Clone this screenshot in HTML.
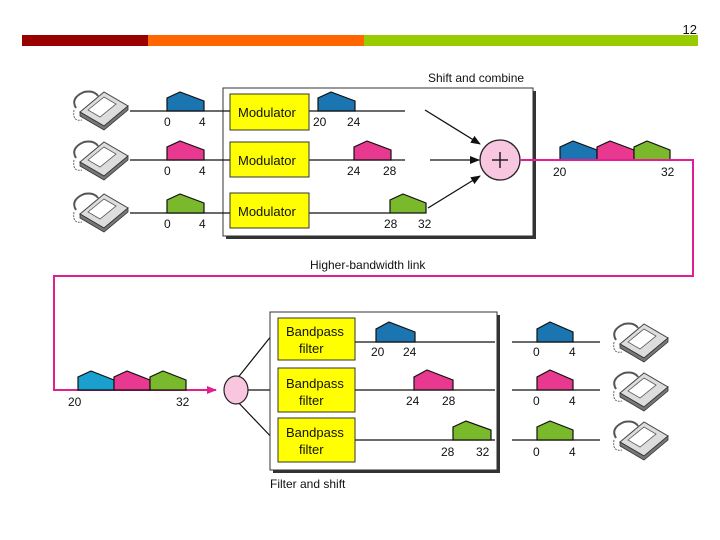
<!DOCTYPE html>
<html><head><style>body{margin:0;background:#fff}svg{display:block}text{font-family:"Liberation Sans",sans-serif;font-size:12px;fill:#111}</style></head><body>
<svg width="720" height="540" viewBox="0 0 720 540">
<defs>
<marker id="a" markerWidth="10" markerHeight="8" refX="9" refY="4" orient="auto" markerUnits="userSpaceOnUse"><path d="M0,0 L10,4 L0,8 Z" fill="#111"/></marker>
<marker id="m" markerWidth="10" markerHeight="8" refX="9" refY="4" orient="auto" markerUnits="userSpaceOnUse"><path d="M0,0 L10,4 L0,8 Z" fill="#e0208f"/></marker>
<g id="ph">
<path d="M-22,2 L2,-18 L26,-4 L2,16 Z" fill="#ddd" stroke="#444" stroke-width="1"/>
<path d="M-22,2 L-22,6 L2,20 L26,0 L26,-4 L2,16 Z" fill="#777" stroke="#333" stroke-width="0.8"/>
<path d="M-14,0 L2,-13 L14,-6 L-2,7 Z" fill="#fff" stroke="#555" stroke-width="0.8"/>
<path d="M-26,-2 Q-32,-12 -18,-18 Q-8,-20 -4,-14" fill="none" stroke="#555" stroke-width="2"/>
<path d="M-28,0 Q-30,12 -20,10" fill="none" stroke="#666" stroke-width="1" stroke-dasharray="2,1"/>
</g>
</defs>
<text x="697" y="34" text-anchor="end" style="font-size:13px">12</text>
<rect x="22" y="35" width="126" height="11" fill="#990000"/>
<rect x="148" y="35" width="216" height="11" fill="#ff6600"/>
<rect x="364" y="35" width="334" height="11" fill="#99cc00"/>

<!-- top box -->
<rect x="226" y="91" width="310" height="148" fill="#333"/>
<rect x="223" y="88" width="310" height="148" fill="#fff" stroke="#333"/>
<text x="428" y="82">Shift and combine</text>
<text x="310" y="269">Higher-bandwidth link</text>
<g stroke="#111" stroke-width="1.3">
<line x1="130" y1="111" x2="230" y2="111"/><line x1="130" y1="160" x2="230" y2="160"/><line x1="130" y1="213" x2="230" y2="213"/>
<line x1="309" y1="111" x2="405" y2="111"/><line x1="309" y1="160" x2="405" y2="160"/><line x1="309" y1="213" x2="390" y2="213"/>
</g>
<g fill="#ffff00" stroke="#333"><rect x="230" y="94" width="79" height="36"/><rect x="230" y="142" width="79" height="35"/><rect x="230" y="193" width="79" height="35"/></g>
<text x="238" y="117" style="font-size:13px">Modulator</text><text x="238" y="165" style="font-size:13px">Modulator</text><text x="238" y="216" style="font-size:13px">Modulator</text>
<g stroke="#111" stroke-width="1.2">
<path d="M167,111 V98 L180,92 L204,101 V111 Z" fill="#1a75b0"/>
<path d="M167,160 V147 L180,141 L204,150 V160 Z" fill="#e8388f"/>
<path d="M167,213 V200 L180,194 L204,203 V213 Z" fill="#7ab82c"/>
<path d="M318,111 V98 L331,92 L355,101 V111 Z" fill="#1a75b0"/>
<path d="M354,160 V147 L367,141 L391,150 V160 Z" fill="#e8388f"/>
<path d="M390,213 V200 L403,194 L426,203 V213 Z" fill="#7ab82c"/>
</g>
<text x="164" y="126">0</text><text x="199" y="126">4</text>
<text x="164" y="175">0</text><text x="199" y="175">4</text>
<text x="164" y="228">0</text><text x="199" y="228">4</text>
<text x="313" y="126">20</text><text x="347" y="126">24</text>
<text x="347" y="175">24</text><text x="383" y="175">28</text>
<text x="384" y="228">28</text><text x="418" y="228">32</text>
<g stroke="#111" stroke-width="1.3">
<line x1="425" y1="110" x2="480" y2="144" marker-end="url(#a)"/>
<line x1="430" y1="160" x2="479" y2="160" marker-end="url(#a)"/>
<line x1="428" y1="208" x2="480" y2="176" marker-end="url(#a)"/>
</g>
<circle cx="500" cy="160" r="20" fill="#f9c6e0" stroke="#222" stroke-width="1.3"/>
<path d="M492,160 H508 M500,152 V168" stroke="#222" stroke-width="1.5"/>
<g stroke="#111" stroke-width="1.2">
<path d="M560,160 V147 L573,141 L597,150 V160 Z" fill="#1a75b0"/>
<path d="M597,160 V147 L610,141 L634,150 V160 Z" fill="#e8388f"/>
<path d="M634,160 V147 L647,141 L670,150 V160 Z" fill="#7ab82c"/>
</g>
<polyline points="520,160 693,160 693,276 54,276 54,390 216,390" fill="none" stroke="#e0208f" stroke-width="2" marker-end="url(#m)"/>
<text x="553" y="176">20</text><text x="661" y="176">32</text>
<use href="#ph" x="102" y="110"/><use href="#ph" x="102" y="160"/><use href="#ph" x="102" y="212"/>

<!-- bottom -->
<g stroke="#111" stroke-width="1.2">
<path d="M78,390 V377 L91,371 L114,380 V390 Z" fill="#1aa0cf"/>
<path d="M114,390 V377 L127,371 L150,380 V390 Z" fill="#e8388f"/>
<path d="M150,390 V377 L163,371 L186,380 V390 Z" fill="#7ab82c"/>
</g>
<text x="68" y="406">20</text><text x="176" y="406">32</text>
<g stroke="#111" stroke-width="1.2"><line x1="236" y1="380" x2="276" y2="330"/><line x1="248" y1="390" x2="276" y2="390"/><line x1="236" y1="400" x2="276" y2="442"/></g>
<ellipse cx="236" cy="390" rx="12" ry="14" fill="#f9c6e0" stroke="#222" stroke-width="1.2"/>
<rect x="273" y="315" width="227" height="158" fill="#333"/>
<rect x="270" y="312" width="227" height="158" fill="#fff" stroke="#333"/>
<text x="270" y="488">Filter and shift</text>
<g stroke="#111" stroke-width="1.3">
<line x1="355" y1="342" x2="495" y2="342"/><line x1="355" y1="390" x2="495" y2="390"/><line x1="355" y1="440" x2="495" y2="440"/>
<line x1="512" y1="342" x2="600" y2="342"/><line x1="512" y1="390" x2="600" y2="390"/><line x1="512" y1="440" x2="600" y2="440"/>
</g>
<g fill="#ffff00" stroke="#333"><rect x="278" y="318" width="77" height="42"/><rect x="278" y="368" width="77" height="44"/><rect x="278" y="418" width="77" height="44"/></g>
<g style="font-size:13px"><text x="286" y="336" style="font-size:13px">Bandpass</text><text x="299" y="353" style="font-size:13px">filter</text>
<text x="286" y="388" style="font-size:13px">Bandpass</text><text x="299" y="405" style="font-size:13px">filter</text>
<text x="286" y="437" style="font-size:13px">Bandpass</text><text x="299" y="454" style="font-size:13px">filter</text></g>
<g stroke="#111" stroke-width="1.2">
<path d="M376,342 V329 L389,322 L415,332 V342 Z" fill="#1a75b0"/>
<path d="M414,390 V377 L427,370 L453,380 V390 Z" fill="#e8388f"/>
<path d="M453,440 V427 L466,421 L491,430 V440 Z" fill="#7ab82c"/>
<path d="M537,342 V329 L550,322 L573,332 V342 Z" fill="#1a75b0"/>
<path d="M537,390 V377 L550,370 L573,380 V390 Z" fill="#e8388f"/>
<path d="M537,440 V427 L550,421 L573,430 V440 Z" fill="#7ab82c"/>
</g>
<text x="371" y="356">20</text><text x="403" y="356">24</text>
<text x="406" y="405">24</text><text x="442" y="405">28</text>
<text x="441" y="456">28</text><text x="476" y="456">32</text>
<text x="533" y="356">0</text><text x="569" y="356">4</text>
<text x="533" y="405">0</text><text x="569" y="405">4</text>
<text x="533" y="456">0</text><text x="569" y="456">4</text>
<use href="#ph" x="642" y="342"/><use href="#ph" x="642" y="391"/><use href="#ph" x="642" y="440"/>
</svg>
</body></html>
